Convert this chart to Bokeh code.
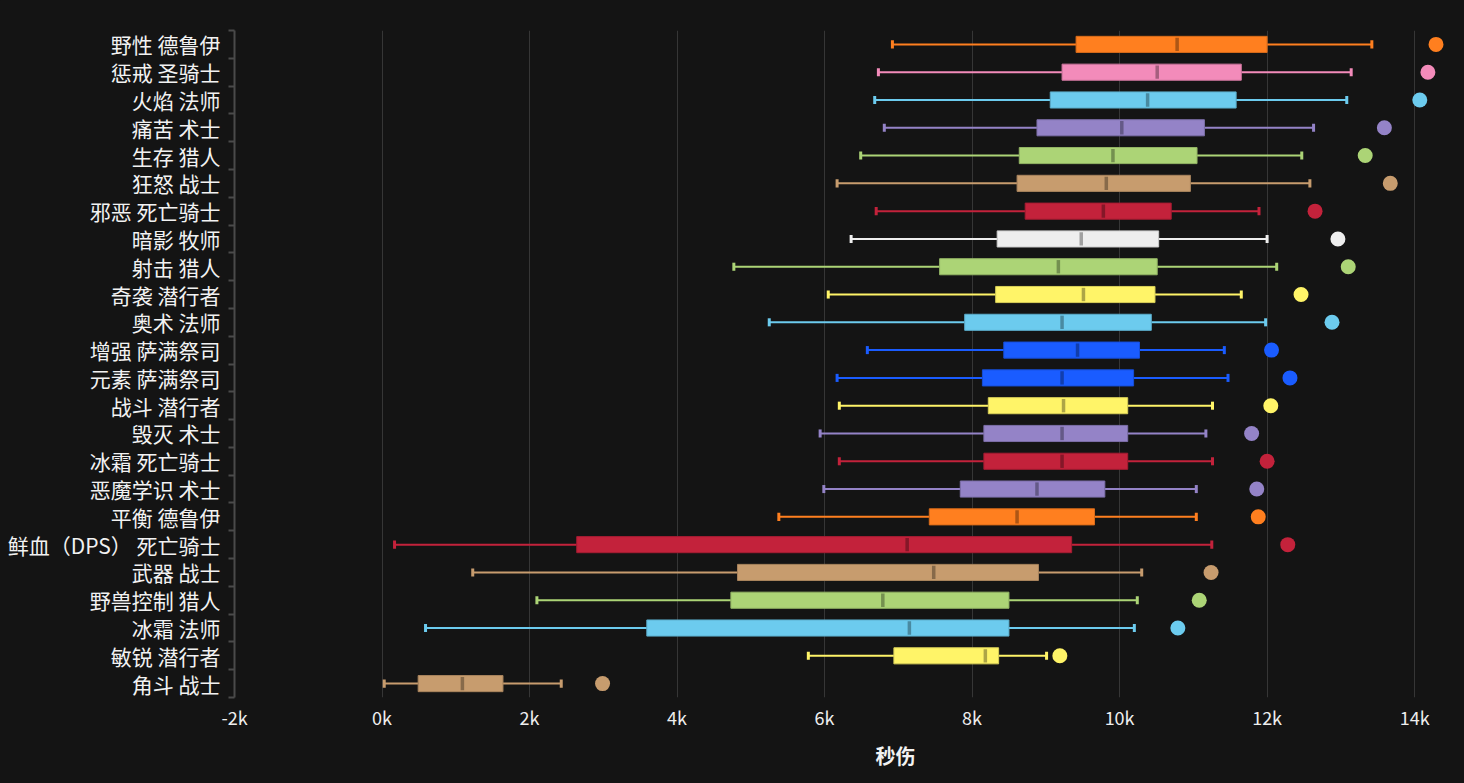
from bokeh.plotting import figure
from bokeh.models import Range1d, FixedTicker, ColumnDataSource, Title
from bokeh.embed import file_html
from bokeh.resources import INLINE

# ---- data ----
specs = ["野性 德鲁伊", "惩戒 圣骑士", "火焰 法师", "痛苦 术士", "生存 猎人", "狂怒 战士",
         "邪恶 死亡骑士", "暗影 牧师", "射击 猎人", "奇袭 潜行者", "奥术 法师", "增强 萨满祭司",
         "元素 萨满祭司", "战斗 潜行者", "毁灭 术士", "冰霜 死亡骑士", "恶魔学识 术士", "平衡 德鲁伊",
         "鲜血（DPS） 死亡骑士", "武器 战士", "野兽控制 猎人", "冰霜 法师", "敏锐 潜行者", "角斗 战士"]
classes = ["druid", "paladin", "mage", "warlock", "hunter", "warrior", "dk", "priest", "hunter",
           "rogue", "mage", "shaman", "shaman", "rogue", "warlock", "dk", "warlock", "druid",
           "dk", "warrior", "hunter", "mage", "rogue", "warrior"]
whisker_low = [6920, 6730, 6680, 6810, 6490, 6170, 6700, 6360, 4770, 6050, 5250, 6580,
               6170, 6200, 5940, 6200, 5990, 5380, 170, 1230, 2100, 590, 5780, 30]
q1 = [9410, 9220, 9060, 8880, 8640, 8610, 8720, 8340, 7560, 8320, 7900, 8430,
      8140, 8220, 8160, 8160, 7840, 7420, 2640, 4820, 4730, 3590, 6940, 490]
median = [10780, 10510, 10380, 10030, 9910, 9820, 9780, 9480, 9170, 9510, 9220, 9430,
          9220, 9240, 9220, 9220, 8880, 8610, 7120, 7480, 6790, 7150, 8180, 1090]
q3 = [12000, 11650, 11580, 11150, 11050, 10960, 10700, 10530, 10510, 10480, 10430, 10270,
      10190, 10110, 10110, 10110, 9800, 9660, 9350, 8900, 8500, 8500, 8360, 1640]
whisker_high = [13420, 13140, 13080, 12630, 12470, 12580, 11890, 12000, 12130, 11650, 11980, 11420,
                11470, 11260, 11170, 11260, 11040, 11040, 11250, 10300, 10240, 10200, 9010, 2430]
outlier = [14290, 14180, 14070, 13590, 13330, 13670, 12650, 12960, 13100, 12460, 12880, 12060,
           12310, 12050, 11790, 12000, 11860, 11880, 12280, 11240, 11080, 10790, 9190, 2990]
x_ticks = [-2000, 0, 2000, 4000, 6000, 8000, 10000, 12000, 14000]
x_tick_labels = ["-2k", "0k", "2k", "4k", "6k", "8k", "10k", "12k", "14k"]
x_title = "秒伤"

# ---- styles ----
class_colors = {
    "druid": "#ff7f1f", "paladin": "#f38bba", "mage": "#6ccbee", "warlock": "#9483c7",
    "hunter": "#acd476", "warrior": "#c79c6e", "dk": "#c3223b", "priest": "#eeeeee",
    "rogue": "#fff468", "shaman": "#1a5cff",
}
BG = "#141414"
FONT = "Noto Sans CJK SC"


def shade(hexcol, f):
    r, g, b = (int(hexcol[i:i + 2], 16) for i in (1, 3, 5))
    return "#%02x%02x%02x" % (int(r * f), int(g * f), int(b * f))


n = len(specs)
ypos = [n - 1 - i + 0.5 for i in range(n)]
colors = [class_colors[c] for c in classes]

src = ColumnDataSource(dict(
    y=ypos, low=whisker_low, q1=q1, med=median, q3=q3, high=whisker_high, out=outlier,
    color=colors,
    border=[shade(c, 0.85) for c in colors],
    mcolor=[shade(c, 0.68) for c in colors],
))

p = figure(width=1456, height=775, x_range=Range1d(-2000, 14500), y_range=Range1d(0, n),
           output_backend="svg", toolbar_location=None,
           min_border_left=234, min_border_right=5, min_border_top=30, min_border_bottom=78)
p.background_fill_color = BG
p.border_fill_color = BG
p.outline_line_color = None

# whiskers
p.segment(x0="low", y0="y", x1="q1", y1="y", source=src, line_color="color", line_width=2)
p.segment(x0="q3", y0="y", x1="high", y1="y", source=src, line_color="color", line_width=2)
# caps
p.rect(x="low", y="y", width=3, width_units="screen", height=0.29, source=src,
       fill_color="color", line_color=None)
p.rect(x="high", y="y", width=3, width_units="screen", height=0.29, source=src,
       fill_color="color", line_color=None)
# boxes
p.hbar(y="y", left="q1", right="q3", height=0.58, source=src,
       fill_color="color", line_color="border", line_width=1)
# medians
p.rect(x="med", y="y", width=3.5, width_units="screen", height=0.48, source=src,
       fill_color="mcolor", line_color=None)
# outliers
p.scatter(x="out", y="y", size=15, source=src, fill_color="color", line_color=None)

# y axis
yax = p.yaxis[0]
yax.ticker = FixedTicker(ticks=ypos, minor_ticks=list(range(n + 1)))
yax.major_label_overrides = {y: s for y, s in zip(ypos, specs)}
yax.major_tick_out = 0
yax.major_tick_in = 0
yax.minor_tick_out = 6
yax.minor_tick_in = 0
yax.minor_tick_line_color = "#4a4a4a"
yax.minor_tick_line_width = 2
yax.axis_line_color = "#4a4a4a"
yax.axis_line_width = 2
yax.major_label_standoff = 8
yax.major_label_text_color = "#f2f2f2"
yax.major_label_text_font = FONT
yax.major_label_text_font_size = "21px"
p.ygrid.grid_line_color = None

# x axis
xax = p.xaxis[0]
xax.ticker = FixedTicker(ticks=x_ticks)
xax.major_label_overrides = {t: s for t, s in zip(x_ticks, x_tick_labels)}
xax.axis_line_color = None
xax.major_tick_line_color = None
xax.minor_tick_line_color = None
xax.major_tick_out = 0
xax.major_label_standoff = 6
xax.major_label_text_color = "#eeeeee"
xax.major_label_text_font = FONT
xax.major_label_text_font_size = "18px"
p.xgrid.ticker = FixedTicker(ticks=x_ticks)
p.xgrid.grid_line_color = "#363636"
p.xgrid.grid_line_width = 1

# axis title, a little right of centre as in the reference
p.add_layout(Title(text=x_title, align="left", offset=641, standoff=12,
                   text_font=FONT, text_font_style="bold", text_font_size="20px",
                   text_color="#f2f2f2"), "below")

html = file_html(p, INLINE)
html = html.replace("</head>", "<style>html,body{background:%s;}</style></head>" % BG, 1)
open("out.html", "w").write(html)
